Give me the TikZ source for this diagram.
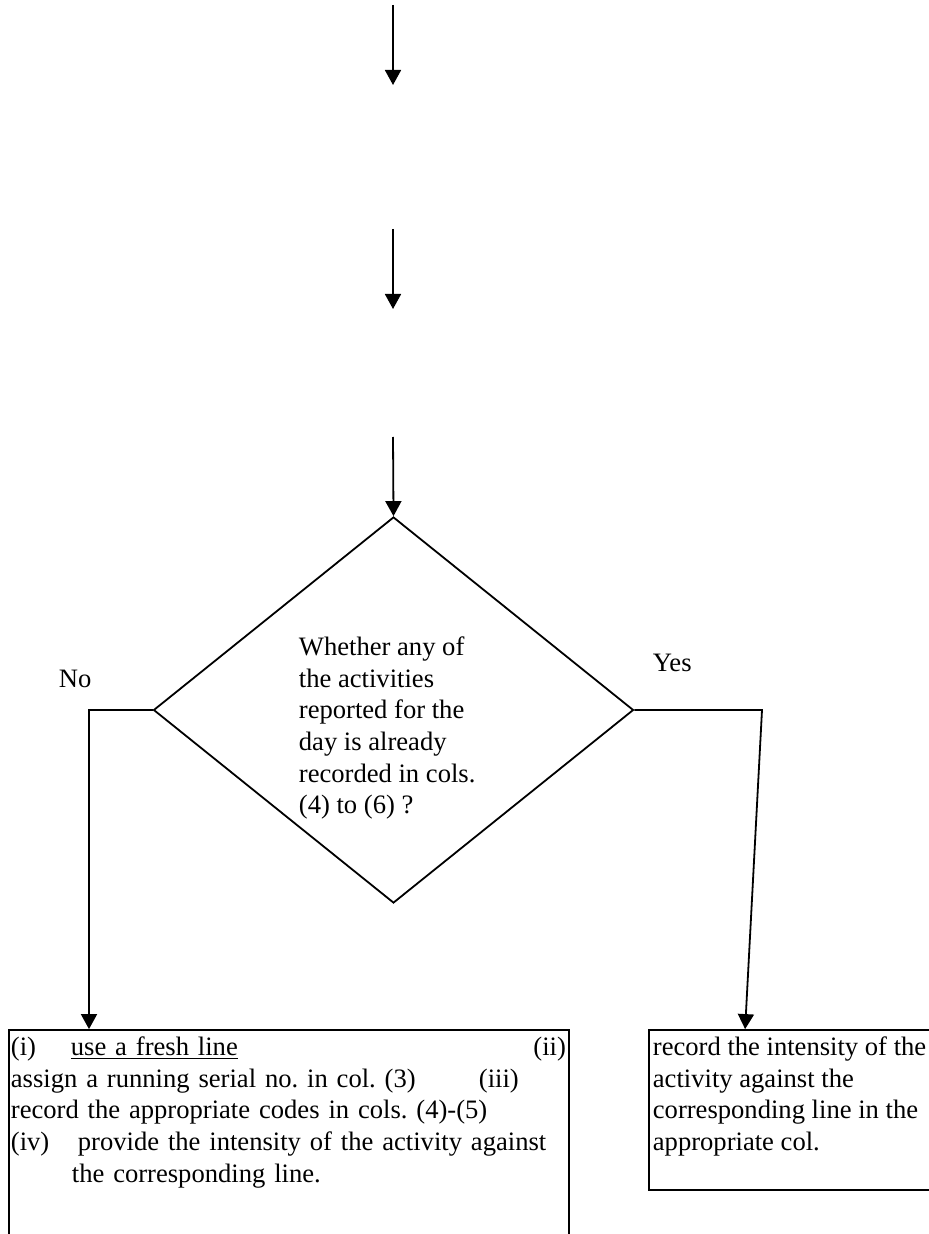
\documentclass[tikz,border=0pt]{standalone}
\usepackage{fontspec}
\setmainfont{Liberation Serif}
\usetikzlibrary{shapes.geometric,arrows.meta}
\newdimen\pxu \pxu=0.5pt
\frenchspacing
\begin{document}
\begin{tikzpicture}[x=0.5pt,y=-0.5pt,
  line width=0.9pt,
  arr/.style={-{Triangle[width=8pt,length=7.5pt]}},
  txt/.style={inner sep=0pt,align=left,font=\frenchspacing\fontsize{13.3pt}{15.8pt}\selectfont},
  boxstyle/.style={draw,rectangle,inner sep=0pt}]
\useasboundingbox (0,0) rectangle (928,1234);
% free arrows at the top
\coordinate (a1s) at (393,5);
\coordinate (a1e) at (393,85);
\coordinate (a2s) at (393,229);
\coordinate (a2e) at (393,309);
\coordinate (a3s) at (393,437);
\draw[arr] (a1s) -- (a1e);
\draw[arr] (a2s) -- (a2e);
% decision
\node[draw,diamond,inner sep=0pt,minimum width=240pt,minimum height=193pt] (dec) at (393.5,710) {};
\node[txt,anchor=north west] (dectext) at (298,636) {Whether any of\\the activities\\reported for the\\day is already\\recorded in cols.\\(4) to (6) ?};
\draw[arr] (a3s) -- (dec.north);
% boxes
\node[boxstyle,minimum width=280pt,minimum height=115pt] (lbox) at (289,1145) {};
\node[boxstyle,minimum width=150pt,minimum height=80pt] (rbox) at (799,1110) {};
\node[txt,anchor=north west,text width=277.5pt] (ltext) at (10,1036) {\makebox[60\pxu][l]{(i)}\underline{use a fresh line}\hfill(ii)\\
\makebox[468\pxu][l]{assign a running serial no. in col. (3)}(iii)\\
record the appropriate codes in cols. (4)-(5)\\
\makebox[67\pxu][l]{(iv)}provide the intensity of the activity against\\
\hspace*{61\pxu}the corresponding line.};
\node[txt,anchor=north west] (rtext) at (652,1036) {record the intensity of the\\activity against the\\corresponding line in the\\appropriate col.};
% labels
\node[txt,anchor=base west] (nolab) at (58,687) {No};
\node[txt,anchor=base west] (yeslab) at (652,671) {Yes};
% connectors
\coordinate (nocorner) at (89,710);
\coordinate (yescorner) at (762,710);
\draw[arr] (dec.west) -- (nocorner) -- (nocorner |- lbox.north);
\draw[arr] (dec.east) -- (yescorner) -- ([xshift=48.5pt]rbox.north west);
\end{tikzpicture}
\end{document}
